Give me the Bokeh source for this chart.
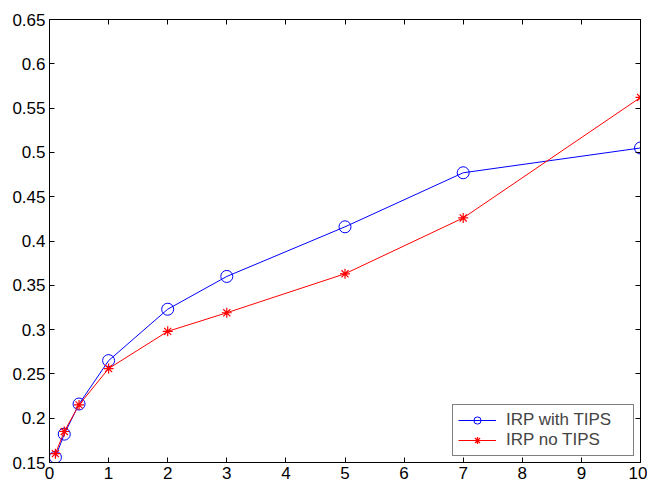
from bokeh.plotting import figure
from bokeh.models import LinearAxis, FixedTicker, Range1d, Legend, LegendItem
from bokeh.embed import file_html
from bokeh.resources import INLINE

x_vals = [0.1, 0.25, 0.5, 1, 2, 3, 5, 7, 10]
irp_with_tips = [0.156, 0.182, 0.216, 0.265, 0.323, 0.360, 0.416, 0.477, 0.505]
irp_no_tips = [0.160, 0.185, 0.215, 0.256, 0.298, 0.319, 0.363, 0.426, 0.562]
x_ticks = list(range(0, 11))
y_ticks = [0.15, 0.2, 0.25, 0.3, 0.35, 0.4, 0.45, 0.5, 0.55, 0.6, 0.65]

FONT = "Liberation Sans"

p = figure(width=647, height=483, output_backend="svg", toolbar_location=None,
           x_range=Range1d(0, 10), y_range=Range1d(0.15, 0.65),
           x_axis_location=None, y_axis_location=None,
           min_border_left=49, min_border_right=7, min_border_top=19, min_border_bottom=21)
p.grid.visible = False
p.outline_line_color = "black"
p.outline_line_width = 1
p.background_fill_color = "white"
p.border_fill_color = "white"

def make_axis(ticks, labels=True):
    ax = LinearAxis(ticker=FixedTicker(ticks=ticks))
    ax.major_tick_in = 5
    ax.major_tick_out = 0
    ax.minor_tick_in = 0
    ax.minor_tick_out = 0
    ax.axis_line_color = "black"
    ax.major_tick_line_color = "black"
    if labels:
        ax.major_label_text_font = FONT
        ax.major_label_text_font_size = "17px"
        ax.major_label_text_color = "black"
        ax.major_label_standoff = 4
    else:
        ax.major_label_text_font_size = "0px"
        ax.major_label_text_color = None
        ax.major_label_standoff = 0
    return ax

bottom = make_axis(x_ticks)
bottom.major_label_overrides = {t: str(t) for t in x_ticks}
left = make_axis(y_ticks)
left.major_label_overrides = {t: ("%g" % t) for t in y_ticks}
top = make_axis(x_ticks, labels=False)
right = make_axis(y_ticks, labels=False)
p.add_layout(bottom, "below")
p.add_layout(left, "left")
p.add_layout(top, "above")
p.add_layout(right, "right")

l1 = p.line(x_vals, irp_with_tips, line_color="blue", line_width=1)
s1 = p.scatter(x_vals, irp_with_tips, marker="circle", size=12, fill_color=None,
               line_color="blue", line_width=1)
l2 = p.line(x_vals, irp_no_tips, line_color="red", line_width=1)
s2 = p.scatter(x_vals, irp_no_tips, marker="asterisk", size=10,
               line_color="red", line_width=1.2)

legend = Legend(items=[LegendItem(label="IRP with TIPS", renderers=[l1, s1]),
                       LegendItem(label="IRP no TIPS", renderers=[l2, s2])],
                location="bottom_right")
legend.label_text_font = FONT
legend.label_text_font_size = "17px"
legend.border_line_color = "black"
legend.border_line_width = 1
legend.background_fill_color = "white"
legend.background_fill_alpha = 1
legend.margin = 6
legend.padding = 5
legend.spacing = 0
legend.glyph_width = 38
legend.glyph_height = 18
legend.label_height = 18
legend.label_standoff = 10
legend.label_width = 122
p.add_layout(legend)

open("out.html", "w").write(file_html(p, INLINE))
